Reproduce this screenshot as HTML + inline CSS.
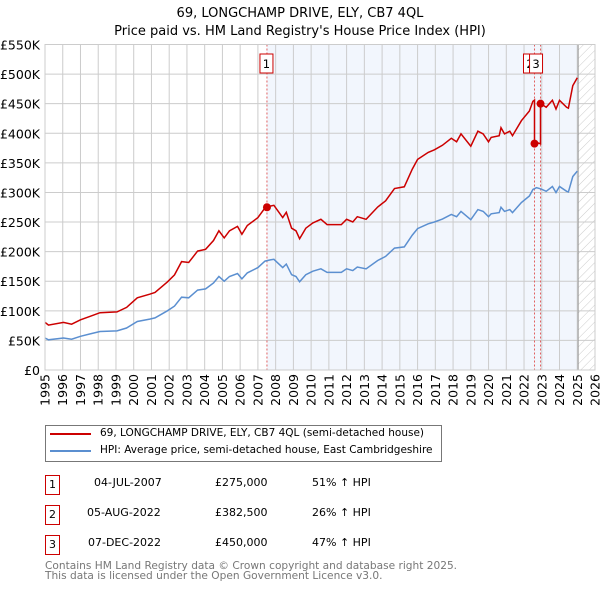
<!DOCTYPE html>
<html><head><meta charset="utf-8"><style>
body{margin:0;background:#fff;font-family:"DejaVu Sans","Liberation Sans",sans-serif;}
#wrap{position:relative;width:600px;height:590px;overflow:hidden}
.t{position:absolute;white-space:nowrap;font-size:11px;color:#000}
.box{position:absolute;border:1px solid #c00;width:13px;height:18px;text-align:center;line-height:18px;font-size:11px}
</style></head><body><div id="wrap">
<svg id="chart" width="600" height="420" style="position:absolute;left:0;top:0">
<defs><pattern id="hatch" width="6" height="6" patternUnits="userSpaceOnUse" patternTransform="rotate(45)"><line x1="0" y1="0" x2="0" y2="6" stroke="#ccc" stroke-width="1"/></pattern></defs>
<text x="300" y="17" text-anchor="middle" font-size="13">69, LONGCHAMP DRIVE, ELY, CB7 4QL</text>
<text x="300" y="35" text-anchor="middle" font-size="13">Price paid vs. HM Land Registry's House Price Index (HPI)</text>
<g id="g"></g>
</svg>
<div style="position:absolute;left:45px;top:425px;width:395px;height:35px;border:1px solid #777"></div>
<div style="position:absolute;left:50px;top:433px;width:41px;height:2px;background:#c00"></div>
<div class="t" style="left:100px;top:427px;font-size:10.5px">69, LONGCHAMP DRIVE, ELY, CB7 4QL (semi-detached house)</div>
<div style="position:absolute;left:50px;top:450px;width:41px;height:2px;background:#5b8fd0"></div>
<div class="t" style="left:100px;top:444px;font-size:10.5px">HPI: Average price, semi-detached house, East Cambridgeshire</div>
<div class="box" style="left:45px;top:475px">1</div>
<div class="t" style="left:94px;top:476px">04-JUL-2007</div>
<div class="t" style="left:215px;top:476px">£275,000</div>
<div class="t" style="left:312px;top:476px">51% ↑ HPI</div>
<div class="box" style="left:45px;top:505px">2</div>
<div class="t" style="left:87px;top:506px">05-AUG-2022</div>
<div class="t" style="left:215px;top:506px">£382,500</div>
<div class="t" style="left:312px;top:506px">26% ↑ HPI</div>
<div class="box" style="left:45px;top:535px">3</div>
<div class="t" style="left:88px;top:536px">07-DEC-2022</div>
<div class="t" style="left:215px;top:536px">£450,000</div>
<div class="t" style="left:312px;top:536px">47% ↑ HPI</div>
<div class="t" style="left:45px;top:561px;color:#777;font-size:10.6px;line-height:10px">Contains HM Land Registry data © Crown copyright and database right 2025.<br>This data is licensed under the Open Government Licence v3.0.</div>
</div>
<script>
const hpiYears=[1995,1995.2,1996.04,1996.5,1997,1997.55,1998.1,1999.06,1999.6,2000.2,2000.9,2001.2,2001.9,2002.3,2002.7,2003.1,2003.6,2004.05,2004.5,2004.8,2005.1,2005.4,2005.85,2006.1,2006.4,2007,2007.4,2007.7,2007.9,2008.4,2008.6,2008.9,2009.15,2009.35,2009.7,2010.1,2010.55,2010.9,2011.7,2012,2012.35,2012.6,2013.1,2013.75,2014.2,2014.7,2015.25,2015.7,2016,2016.6,2016.95,2017.4,2017.9,2018.2,2018.45,2019,2019.4,2019.7,2020,2020.15,2020.6,2020.7,2020.9,2021.2,2021.35,2021.85,2022.3,2022.5,2022.7,2022.95,2023.25,2023.6,2023.8,2024,2024.4,2024.5,2024.75,2025];
const hpiValues=[54,51,54,52,57,61,65,66,71,82,86,88,100,108,123,122,135,137,147,158,150,158,163,154,164,173,184,186,187,173,179,161,158,149,161,167,171,165,165,171,168,174,171,185,192,206,208,228,239,247,250,255,263,259,268,254,271,268,259,264,266,275,268,271,266,283,294,305,308,306,302,310,300,310,302,301,327,336];
const saleYears=[2007.51,2022.59,2022.93];
const salePrices=[275,382.5,450];
const saleLabels=["1","2","3"];
const yTicks=[0,50,100,150,200,250,300,350,400,450,500,550];
const yTickLabels=["£0","£50K","£100K","£150K","£200K","£250K","£300K","£350K","£400K","£450K","£500K","£550K"];
const xTicks=[];for(let y=1995;y<=2026;y++)xTicks.push(y);

const X0=45,X1=595,Y0=370,Y1=44.5;
const xs=y=>X0+(y-1995)*(X1-X0)/31;
const ys=v=>Y0-v*(Y0-Y1)/550;
const g=document.getElementById('g');
const NS='http://www.w3.org/2000/svg';
function mk(t,a){const e=document.createElementNS(NS,t);for(const k in a)e.setAttribute(k,a[k]);g.appendChild(e);return e;}
function hpiAt(y){for(let i=0;i<hpiYears.length-1;i++){if(y<=hpiYears[i+1]){const f=(y-hpiYears[i])/(hpiYears[i+1]-hpiYears[i]);return hpiValues[i]+f*(hpiValues[i+1]-hpiValues[i]);}}return hpiValues[hpiValues.length-1];}

let e=mk('rect',{x:xs(saleYears[0]),y:Y1,width:xs(2025.05)-xs(saleYears[0]),height:Y0-Y1,fill:'#eef3fc',opacity:0.75});

e=mk('rect',{x:xs(2025.05),y:Y1,width:X1-xs(2025.05),height:Y0-Y1,fill:'url(#hatch)'});

yTicks.forEach((v,i)=>{
 e=mk('line',{x1:X0,x2:X1,y1:ys(v),y2:ys(v),stroke:'#ccc','stroke-width':1});
 
 e=mk('text',{x:40,y:ys(v)+5,'text-anchor':'end','font-size':12.5});e.textContent=yTickLabels[i];
 
});
xTicks.forEach(y=>{
 e=mk('line',{x1:xs(y),x2:xs(y),y1:Y1,y2:Y0,stroke:'#ccc','stroke-width':1});
 
 e=mk('text',{x:0,y:0,'font-size':12.5,'text-anchor':'end',transform:`translate(${xs(y)+4.5},374) rotate(-90)`});e.textContent=y;
 
});
e=mk('line',{x1:xs(2025.05),x2:xs(2025.05),y1:Y1,y2:Y0,stroke:'#999','stroke-width':1});

saleYears.forEach((sy,i)=>{
 e=mk('line',{x1:xs(sy),x2:xs(sy),y1:Y1,y2:Y0,stroke:'#e06060','stroke-width':1,'stroke-dasharray':'2,2'});
 
});
let hp='';hpiYears.forEach((y,i)=>hp+=(i?'L':'M')+xs(y).toFixed(1)+','+ys(hpiValues[i]).toFixed(1));
e=mk('path',{d:hp,fill:'none',stroke:'#5b8fd0','stroke-width':1.5});

const ratios=saleYears.map((s,i)=>salePrices[i]/hpiAt(s));
function ratioAt(y){let r=ratios[0];saleYears.forEach((s,i)=>{if(y>=s)r=ratios[i];});return r;}
const pts=[];hpiYears.forEach((y,i)=>{
 saleYears.forEach((s,j)=>{if(s>(i?hpiYears[i-1]:0)&&s<=y&&j>0){pts.push([s,hpiAt(s)*ratios[j-1]]);pts.push([s,salePrices[j]]);}});
 pts.push([y,hpiValues[i]*ratioAt(y)]);
});
let rp='';pts.forEach((p,i)=>rp+=(i?'L':'M')+xs(p[0]).toFixed(1)+','+ys(p[1]).toFixed(1));
e=mk('path',{d:rp,fill:'none',stroke:'#cc0000','stroke-width':1.5});

saleYears.forEach((sy,i)=>{
 e=mk('circle',{cx:xs(sy),cy:ys(salePrices[i]),r:4,fill:'#cc0000'});
 
});
saleYears.forEach((sy,i)=>{
 const bx=xs(sy)-(i===0?7:11);
 e=mk('rect',{x:bx,y:54,width:13,height:19,fill:'#fff',stroke:'#c00'});
 
 e=mk('text',{x:bx+6.5,y:68,'text-anchor':'middle','font-size':11.5});e.textContent=saleLabels[i];
 
});
e=mk('rect',{x:X0,y:Y1,width:X1-X0,height:Y0-Y1,fill:'none',stroke:'#ccc'});

</script></body></html>
